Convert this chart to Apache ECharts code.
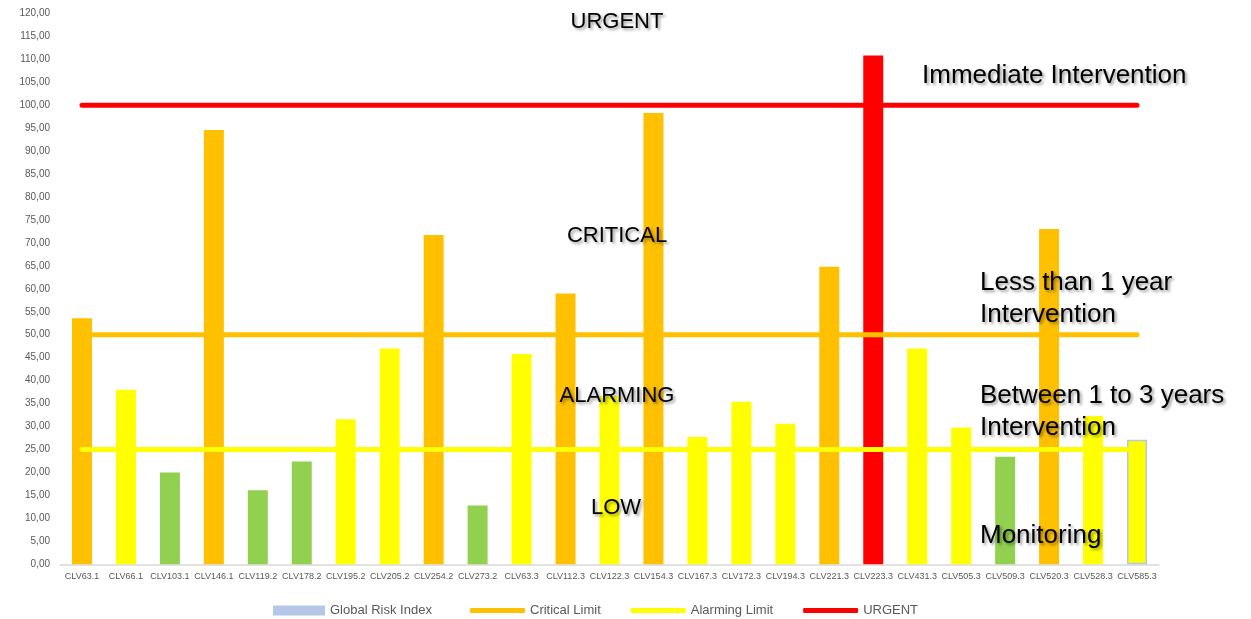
<!DOCTYPE html>
<html>
<head>
<meta charset="utf-8">
<script src="https://cdn.jsdelivr.net/npm/echarts@6/dist/echarts.min.js"></script>
<style>
  html, body { margin: 0; padding: 0; background: #ffffff; }
  #chart { width: 1251px; height: 619px; }
</style>
</head>
<body>
<div id="chart"></div>
<script>
const categories = ['CLV63.1','CLV66.1','CLV103.1','CLV146.1','CLV119.2','CLV178.2','CLV195.2','CLV205.2','CLV254.2','CLV273.2','CLV63.3','CLV112.3','CLV122.3','CLV154.3','CLV167.3','CLV172.3','CLV194.3','CLV221.3','CLV223.3','CLV431.3','CLV505.3','CLV509.3','CLV520.3','CLV528.3','CLV585.3'];
const globalRiskIndex = [53.6, 38.0, 20.0, 94.6, 16.1, 22.4, 31.6, 47.0, 71.7, 12.8, 45.8, 59.0, 36.6, 98.3, 27.7, 35.4, 30.6, 64.8, 110.8, 47.0, 29.8, 23.4, 73.0, 32.3, 27.1];
const criticalLimit = [50,50,50,50,50,50,50,50,50,50,50,50,50,50,50,50,50,50,50,50,50,50,50,50,50];
const alarmingLimit = [25,25,25,25,25,25,25,25,25,25,25,25,25,25,25,25,25,25,25,25,25,25,25,25,25];
const urgentLimit = [100,100,100,100,100,100,100,100,100,100,100,100,100,100,100,100,100,100,100,100,100,100,100,100,100];
const yTicks = { min: 0, max: 120, interval: 5 };

const ORANGE = '#FFC000', YELLOW = '#FFFF00', GREEN = '#92D050', RED = '#FF0000', BLUE = '#B4C7E7';
function riskColor(v) {
  if (v >= 100) return RED;
  if (v >= 50) return ORANGE;
  if (v >= 25) return YELLOW;
  return GREEN;
}
const barData = globalRiskIndex.map((v, i) => {
  const item = { value: v, itemStyle: { color: riskColor(v) } };
  if (i === globalRiskIndex.length - 1) {
    item.itemStyle.borderColor = BLUE;
    item.itemStyle.borderWidth = 1.5;
  }
  return item;
});

const shadow = { textShadowColor: 'rgba(0,0,0,0.4)', textShadowBlur: 3, textShadowOffsetX: 2, textShadowOffsetY: 2 };
function label(text, x, y, size, align) {
  return {
    type: 'text', x: x, y: y, z: 100,
    style: Object.assign({
      text: text, fill: '#000000',
      font: size + 'px "Liberation Sans", Arial, sans-serif',
      align: align, verticalAlign: 'middle'
    }, shadow)
  };
}

const chart = echarts.init(document.getElementById('chart'), null, { renderer: 'canvas' });
chart.setOption({
  animation: false,
  backgroundColor: '#ffffff',
  grid: { left: 60, right: 92, top: 13.3, bottom: 54.7 },
  legend: [
    {
      data: [{ name: 'Global Risk Index', icon: 'rect' }],
      left: 268, top: 599,
      itemWidth: 52, itemHeight: 10, itemGap: 30,
      textStyle: { color: '#595959', fontSize: 13, fontFamily: '"Liberation Sans", Arial, sans-serif' }
    },
    {
      data: [
        { name: 'Critical Limit', icon: 'roundRect' },
        { name: 'Alarming Limit', icon: 'roundRect' },
        { name: 'URGENT', icon: 'roundRect' }
      ],
      left: 465, top: 599,
      itemWidth: 55, itemHeight: 5, itemGap: 30,
      textStyle: { color: '#595959', fontSize: 13, fontFamily: '"Liberation Sans", Arial, sans-serif' }
    }
  ],
  xAxis: {
    type: 'category',
    data: categories,
    axisLine: { show: true, lineStyle: { color: '#D9D9D9', width: 1.5 } },
    axisTick: { show: false },
    axisLabel: { interval: 0, color: '#595959', fontSize: 9, margin: 8, fontFamily: '"Liberation Sans", Arial, sans-serif' }
  },
  yAxis: {
    type: 'value',
    min: yTicks.min, max: yTicks.max, interval: yTicks.interval,
    splitLine: { show: false },
    axisLine: { show: false },
    axisTick: { show: false },
    axisLabel: {
      color: '#595959', fontSize: 10, margin: 10,
      fontFamily: '"Liberation Sans", Arial, sans-serif',
      formatter: v => v.toFixed(2).replace('.', ',')
    }
  },
  series: [
    {
      name: 'Global Risk Index', type: 'bar', data: barData, barWidth: 20,
      itemStyle: { color: BLUE }, color: BLUE
    },
    {
      name: 'Critical Limit', type: 'line', data: criticalLimit, showSymbol: false, symbol: 'none',
      color: ORANGE, lineStyle: { color: ORANGE, width: 5, cap: 'round' }, itemStyle: { color: ORANGE }
    },
    {
      name: 'Alarming Limit', type: 'line', data: alarmingLimit, showSymbol: false, symbol: 'none',
      color: YELLOW, lineStyle: { color: YELLOW, width: 5, cap: 'round' }, itemStyle: { color: YELLOW }
    },
    {
      name: 'URGENT', type: 'line', data: urgentLimit, showSymbol: false, symbol: 'none',
      color: RED, lineStyle: { color: RED, width: 5, cap: 'round' }, itemStyle: { color: RED }
    }
  ],
  graphic: [
    label('URGENT', 617, 22, 22, 'center'),
    label('CRITICAL', 617, 236, 22, 'center'),
    label('ALARMING', 617, 396, 22, 'center'),
    label('LOW', 616, 508, 22, 'center'),
    label('Immediate Intervention', 922, 76, 26, 'left'),
    label('Less than 1 year', 980, 283, 26, 'left'),
    label('Intervention', 980, 315, 26, 'left'),
    label('Between 1 to 3 years', 980, 396, 26, 'left'),
    label('Intervention', 980, 428, 26, 'left'),
    label('Monitoring', 980, 536, 26, 'left')
  ]
});
</script>
</body>
</html>
